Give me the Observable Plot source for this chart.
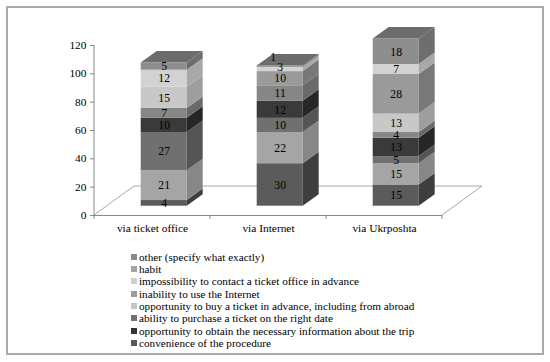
<!DOCTYPE html>
<html><head><meta charset="utf-8">
<script src="https://cdn.jsdelivr.net/npm/d3@7"></script>
<script src="https://cdn.jsdelivr.net/npm/@observablehq/plot@0.6"></script>
<style>
body{margin:0;background:#fff;}
#wrap{position:relative;width:550px;height:362px;font-family:"Liberation Serif","Times New Roman",serif;overflow:hidden}
#border{position:absolute;left:6px;top:6px;width:534px;height:345px;border:2px solid #aaa;}
#chart{position:absolute;left:0;top:0}
#legend{position:absolute;left:131px;top:250.5px;color:#000}
.item{display:flex;align-items:center;white-space:nowrap;height:12.37px;line-height:12.37px}
.sw{width:6px;height:6px;margin-right:2px;flex:none}
</style></head><body>
<div id="wrap"><div id="border"></div><div id="chart"></div><div id="legend"></div></div>
<script>
// ---- data ----
const categories = ["via ticket office", "via Internet", "via Ukrposhta"];
const layers = ["segment 1", "segment 2", "segment 3", "segment 4", "segment 5", "segment 6", "segment 7", "segment 8", "segment 9"];
const ticketOffice = [4, 21, 27, 10, 7, 15, 0, 12, 5];
const internet = [30, 22, 10, 12, 11, 0, 10, 3, 1];
const ukrposhta = [15, 15, 5, 13, 4, 13, 28, 7, 18];
const yTicks = [0, 20, 40, 60, 80, 100, 120];
const legendLabels = [
  "other (specify what exactly)",
  "habit",
  "impossibility to contact a ticket office in advance",
  "inability to use the Internet",
  "opportunity to buy a ticket in advance, including from abroad",
  "ability to purchase a ticket on the right date",
  "opportunity to obtain the necessary information about the trip",
  "convenience of the procedure"
];
// ---- styles ----
const frontColors = ["#5b5b5b", "#a5a5a5", "#707070", "#3a3a3a", "#868686", "#c8c8c8", "#9a9a9a", "#d2d2d2", "#8e8e8e"];
const sideColors  = ["#3e3e3e", "#878787", "#555555", "#262626", "#6a6a6a", "#9e9e9e", "#787878", "#a8a8a8", "#6e6e6e"];
const topColor = "#6c6c6c";
const legendColors = ["#8a8a8a", "#a5a5a5", "#cfcfcf", "#9a9a9a", "#c5c5c5", "#727272", "#333333", "#5a5a5a"];
const INSET_L = 46.7, INSET_R = 23.3, LIFT = -9.3, DEPTH_X = 16, DEPTH_Y = -11.5, FLOOR_X = 40, FLOOR_Y = -29;
const FONT = "'Liberation Serif','Times New Roman',serif";

// calibrate font size so text widths match Times metrics (in case of font fallback)
const ctx = document.createElement("canvas").getContext("2d");
ctx.font = `100px ${FONT}`;
const measured = ctx.measureText(legendLabels[6]).width;
let k = 2460.9 / measured;
if (!isFinite(k) || k < 0.8 || k > 1.2) k = 1;
const fs = s => +(s * k).toFixed(2);

const valuesByCategory = [ticketOffice, internet, ukrposhta];
const rows = [];
categories.forEach((c, i) => layers.forEach((l, j) => rows.push({category: c, layer: l, value: valuesByCategory[i][j]})));

const midDx = (INSET_L - INSET_R) / 2;
const plot = Plot.plot({
  width: 550, height: 245,
  marginLeft: 94, marginRight: 108, marginTop: 45, marginBottom: 30,
  style: {fontFamily: FONT, fontSize: fs(11.4) + "px", color: "#000", background: "transparent"},
  x: {domain: categories, padding: 0, label: null},
  y: {domain: [0, 120], label: null},
  color: {domain: layers, range: frontColors},
  marks: [
    Plot.axisY({ticks: yTicks, tickSize: 4, tickPadding: 4, stroke: "#888", label: null}),
    Plot.axisX({tickSize: 0, tickPadding: 8, label: null}),
    Plot.ruleY([0], {stroke: "#888"}),
    Plot.barY(rows, {x: "category", y: "value", fill: "layer", insetLeft: INSET_L, insetRight: INSET_R, dy: LIFT}),
    Plot.text(rows, Plot.stackY({x: "category", y: "value", z: "layer", text: d => d.value > 3 ? String(d.value) : "", dx: midDx, dy: LIFT, fontSize: fs(11.7)})),
    Plot.text(rows, Plot.stackY({x: "category", y: "value", z: "layer", text: d => d.value > 1 && d.value <= 3 ? String(d.value) : "", dx: midDx, dy: LIFT - 2.5, fontSize: fs(11.7)})),
    Plot.text(rows, Plot.stackY({x: "category", y: "value", z: "layer", text: d => d.value === 1 ? String(d.value) : "", dx: midDx - 7, dy: LIFT - 9, fontSize: fs(11.7)}))
  ]
});
document.getElementById("chart").appendChild(plot);

// ---- 3D decorations drawn through Plot's scales ----
const xs = plot.scale("x"), ys = plot.scale("y");
const X = v => xs.apply(v), Y = v => ys.apply(v);
const bw = xs.bandwidth;
const x0 = xs.range[0], x1 = xs.range[1], y0 = Y(0);
const svg = d3.select(plot);
const floor = svg.insert("g", ":first-child");
floor.append("path")
  .attr("d", `M${x0},${y0}L${x0 + FLOOR_X},${y0 + FLOOR_Y}L${x1 + FLOOR_X},${y0 + FLOOR_Y}L${x1},${y0}`)
  .attr("fill", "none").attr("stroke", "#a8a8a8");
const deco = svg.append("g");
deco.append("line").attr("x1", x0).attr("x2", x0).attr("y1", Y(120)).attr("y2", y0).attr("stroke", "#888");
categories.concat([null]).forEach((c) => {
  const xb = c === null ? X(categories[categories.length - 1]) + bw : X(c);
  deco.append("line").attr("x1", xb).attr("x2", xb).attr("y1", y0).attr("y2", y0 + 4).attr("stroke", "#888");
});
categories.forEach((c, i) => {
  const vals = valuesByCategory[i];
  const xl = X(c) + INSET_L, xr = X(c) + bw - INSET_R;
  let cum = 0;
  vals.forEach((v, j) => {
    if (v <= 0) return;
    const yb = Y(cum) + LIFT, yt = Y(cum + v) + LIFT;
    deco.append("path")
      .attr("d", `M${xr},${yb}L${xr + DEPTH_X},${yb + DEPTH_Y}L${xr + DEPTH_X},${yt + DEPTH_Y}L${xr},${yt}Z`)
      .attr("fill", sideColors[j]);
    cum += v;
  });
  const yTop = Y(cum) + LIFT;
  deco.append("path")
    .attr("d", `M${xl},${yTop}L${xl + DEPTH_X},${yTop + DEPTH_Y}L${xr + DEPTH_X},${yTop + DEPTH_Y}L${xr},${yTop}Z`)
    .attr("fill", topColor);
});
svg.selectAll("g[aria-label='text']").raise();

// ---- legend ----
const legend = d3.select("#legend").style("font-size", fs(11.2) + "px");
legendLabels.forEach((t, i) => {
  const it = legend.append("div").attr("class", "item");
  it.append("div").attr("class", "sw").style("background", legendColors[i]);
  it.append("span").text(t);
});
</script>
</body></html>
